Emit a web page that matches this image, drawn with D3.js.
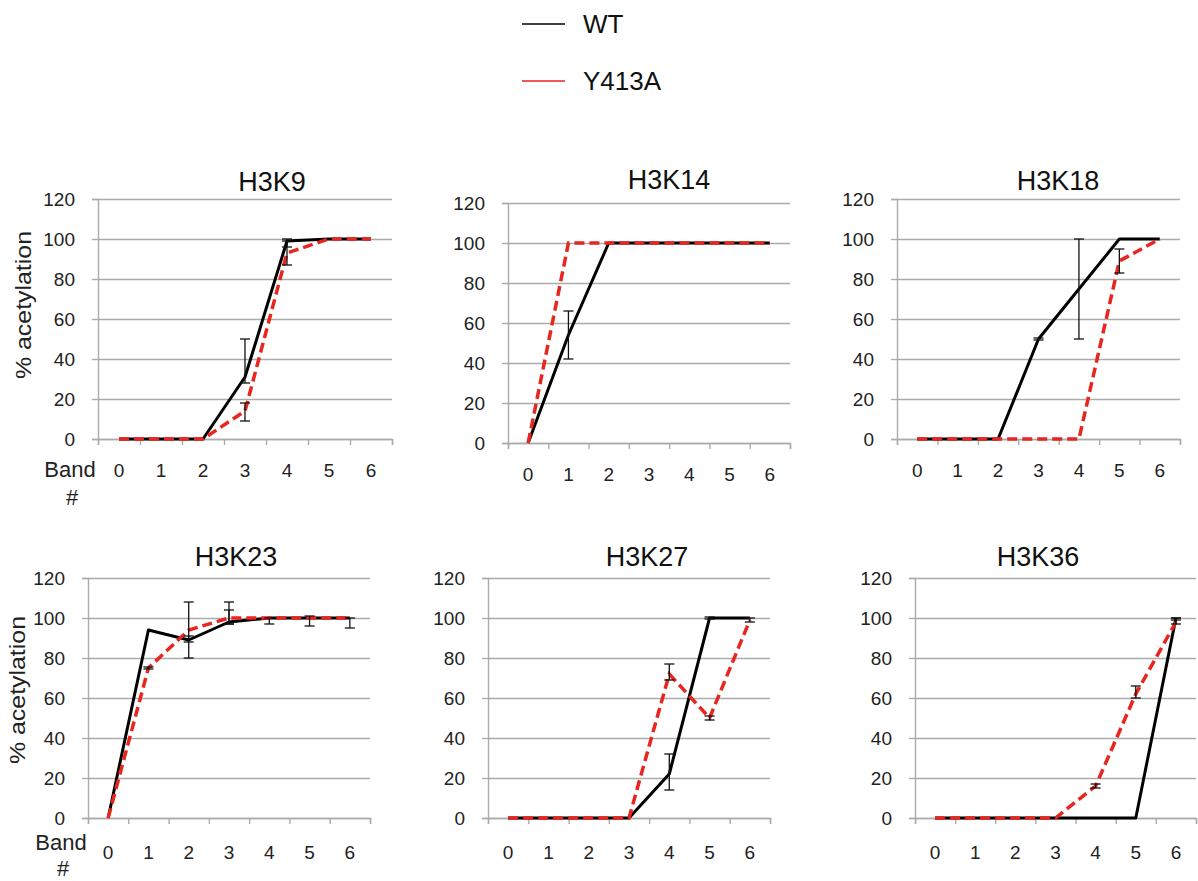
<!DOCTYPE html>
<html>
<head>
<meta charset="utf-8">
<script src="https://cdn.jsdelivr.net/npm/d3@7"></script>
<style>
  body { margin: 0; background: #fff; }
  svg { font-family: "Liberation Sans", Arial, sans-serif; }
</style>
</head>
<body>
<div id="chart"></div>
<script>
// data

var bands = ["0", "1", "2", "3", "4", "5", "6"];
var yTicks = [0, 20, 40, 60, 80, 100, 120];
var seriesNames = ["WT", "Y413A"];

var h3k9Wt = [0, 0, 0, 31, 99, 100, 100];
var h3k9WtErr = [null, null, null, [28, 50], [96, 100], null, null];
var h3k9Mut = [0, 0, 0, 14, 93, 100, 100];
var h3k9MutErr = [null, null, null, [9, 18], [87, 99], null, null];

var h3k14Wt = [0, 54, 100, 100, 100, 100, 100];
var h3k14WtErr = [null, [42, 66], null, null, null, null, null];
var h3k14Mut = [0, 100, 100, 100, 100, 100, 100];
var h3k14MutErr = [null, null, null, null, null, null, null];

var h3k18Wt = [0, 0, 0, 50, 75, 100, 100];
var h3k18WtErr = [null, null, null, [49.5, 50.5], [50, 100], null, null];
var h3k18Mut = [0, 0, 0, 0, 0, 89, 100];
var h3k18MutErr = [null, null, null, null, null, [83, 95], null];

var h3k23Wt = [0, 94, 89, 98, 100, 100, 100];
var h3k23WtErr = [null, null, [88, 91], [97, 104], [97, 100], [96, 101], [95, 100]];
var h3k23Mut = [0, 75, 94, 100, 100, 100, 100];
var h3k23MutErr = [null, [74.5, 75.5], [80, 108], [97, 108], null, null, null];

var h3k27Wt = [0, 0, 0, 0, 22, 100, 100];
var h3k27WtErr = [null, null, null, null, [14, 32], [99.5, 100.5], null];
var h3k27Mut = [0, 0, 0, 0, 72, 50, 99];
var h3k27MutErr = [null, null, null, null, [69, 77], [49, 51], [98, 100]];

var h3k36Wt = [0, 0, 0, 0, 0, 0, 100];
var h3k36WtErr = [null, null, null, null, null, null, [99, 100]];
var h3k36Mut = [0, 0, 0, 0, 16, 62, 98];
var h3k36MutErr = [null, null, null, null, [15, 17], [60, 66], [97, 100]];

// layout of the six panels (plot area in page pixels)
// lx/ly = position of the rotated y label, band/hash = baselines of "Band" and "#"
var panels = [
	{title: "H3K9",  wt: h3k9Wt,  wtErr: h3k9WtErr,  mut: h3k9Mut,  mutErr: h3k9MutErr,  x0: 98,  x1: 392,  top: 199, bottom: 439, tx: 272,  ty: 191, xpad: 25,
	 ylab: {lx: 31, ly: 305, bx: 70, band: 477, hash: 505}},
	{title: "H3K14", wt: h3k14Wt, wtErr: h3k14WtErr, mut: h3k14Mut, mutErr: h3k14MutErr, x0: 508, x1: 790,  top: 203, bottom: 443, tx: 669,  ty: 189, xpad: 25, ylab: null},
	{title: "H3K18", wt: h3k18Wt, wtErr: h3k18WtErr, mut: h3k18Mut, mutErr: h3k18MutErr, x0: 897, x1: 1180, top: 199, bottom: 439, tx: 1058, ty: 190, xpad: 25, ylab: null},
	{title: "H3K23", wt: h3k23Wt, wtErr: h3k23WtErr, mut: h3k23Mut, mutErr: h3k23MutErr, x0: 88,  x1: 370,  top: 578, bottom: 818, tx: 236,  ty: 566, xpad: 28,
	 ylab: {lx: 25, ly: 690, bx: 61, band: 850, hash: 876}},
	{title: "H3K27", wt: h3k27Wt, wtErr: h3k27WtErr, mut: h3k27Mut, mutErr: h3k27MutErr, x0: 488, x1: 770,  top: 578, bottom: 818, tx: 647,  ty: 566, xpad: 28, ylab: null},
	{title: "H3K36", wt: h3k36Wt, wtErr: h3k36WtErr, mut: h3k36Mut, mutErr: h3k36MutErr, x0: 915, x1: 1196, top: 578, bottom: 818, tx: 1038, ty: 566, xpad: 28, ylab: null}
];

var svgWidth = 1198, svgHeight = 881;
var gridColor = "#ababab";
var redColor = "#e8251f";

var svg = d3.select("#chart").append("svg")
	.attr("width", svgWidth)
	.attr("height", svgHeight);

// legend
var legend = svg.append("g").attr("id", "legend");
[{name: seriesNames[0], color: "#000", y: 24}, {name: seriesNames[1], color: redColor, y: 81}].forEach(function(l) {
	legend.append("line")
		.attr("x1", 522).attr("x2", 565)
		.attr("y1", l.y).attr("y2", l.y)
		.attr("stroke", l.color)
		.attr("stroke-width", 1.6);
	legend.append("text")
		.attr("x", 583).attr("y", l.y + 9)
		.attr("font-size", 26)
		.attr("fill", "#111")
		.text(l.name);
});

panels.forEach(function(p) {
	var g = svg.append("g");

	var xScale = d3.scaleBand().domain(bands).range([p.x0, p.x1]).padding(0);
	var edgeScale = d3.scaleLinear().domain([0, bands.length]).range([p.x0, p.x1]);
	var yScale = d3.scaleLinear().domain([0, 120]).range([p.bottom, p.top]);

	// horizontal grid
	g.append("g")
		.attr("class", "grid")
		.attr("transform", "translate(" + p.x0 + " 0)")
		.call(d3.axisLeft(yScale).tickValues(yTicks).tickSize(-(p.x1 - p.x0)).tickFormat(""))
		.call(function(s) { s.select(".domain").remove(); })
		.selectAll("line").attr("stroke", gridColor).attr("stroke-width", 1.4);

	// y axis with small stubs and labels
	var yAxis = g.append("g")
		.attr("class", "yAxis")
		.attr("transform", "translate(" + p.x0 + " 0)")
		.call(d3.axisLeft(yScale).tickValues(yTicks).tickSize(6).tickPadding(17));
	yAxis.select(".domain").attr("stroke", gridColor).attr("stroke-width", 1.4);
	yAxis.selectAll("line").attr("stroke", gridColor).attr("stroke-width", 1.4);
	yAxis.selectAll("text").attr("font-size", 19).attr("fill", "#222");

	// x axis: tick marks between bands
	var xTicks = g.append("g")
		.attr("class", "xAxis")
		.attr("transform", "translate(0 " + p.bottom + ")")
		.call(d3.axisBottom(edgeScale).tickValues(d3.range(bands.length + 1)).tickSize(6).tickFormat(""));
	xTicks.select(".domain").attr("stroke", gridColor).attr("stroke-width", 1.4);
	xTicks.selectAll("line").attr("stroke", gridColor).attr("stroke-width", 1.4);

	var xLabels = g.append("g")
		.attr("transform", "translate(0 " + p.bottom + ")")
		.call(d3.axisBottom(xScale).tickSize(0).tickPadding(p.xpad));
	xLabels.select(".domain").remove();
	xLabels.selectAll("text").attr("font-size", 19).attr("fill", "#222");

	// lines
	var line = d3.line()
		.x(function(d, i) { return xScale(bands[i]) + xScale.bandwidth() / 2; })
		.y(function(d) { return yScale(d); });

	g.append("path")
		.datum(p.wt)
		.attr("d", line)
		.attr("fill", "none")
		.attr("stroke", "#000")
		.attr("stroke-width", 3)
		.attr("stroke-linejoin", "round");

	g.append("path")
		.datum(p.mut)
		.attr("d", line)
		.attr("fill", "none")
		.attr("stroke", redColor)
		.attr("stroke-width", 3.5)
		.attr("stroke-dasharray", "10,5");

	// error bars
	var errs = [];
	p.wtErr.forEach(function(e, i) { if (e) errs.push({i: i, lo: e[0], hi: e[1]}); });
	p.mutErr.forEach(function(e, i) { if (e) errs.push({i: i, lo: e[0], hi: e[1]}); });

	var eb = g.selectAll(".err").data(errs).enter().append("g").attr("class", "err")
		.attr("stroke", "#111").attr("stroke-width", 1.3);
	eb.append("line")
		.attr("x1", function(d) { return xScale(bands[d.i]) + xScale.bandwidth() / 2; })
		.attr("x2", function(d) { return xScale(bands[d.i]) + xScale.bandwidth() / 2; })
		.attr("y1", function(d) { return yScale(d.lo); })
		.attr("y2", function(d) { return yScale(d.hi); });
	["lo", "hi"].forEach(function(k) {
		eb.append("line")
			.attr("x1", function(d) { return xScale(bands[d.i]) + xScale.bandwidth() / 2 - 5; })
			.attr("x2", function(d) { return xScale(bands[d.i]) + xScale.bandwidth() / 2 + 5; })
			.attr("y1", function(d) { return yScale(d[k]); })
			.attr("y2", function(d) { return yScale(d[k]); });
	});

	// title
	g.append("text")
		.attr("x", p.tx).attr("y", p.ty)
		.attr("text-anchor", "middle")
		.attr("font-size", 27)
		.attr("fill", "#111")
		.text(p.title);

	if (p.ylab) {
		g.append("text")
			.attr("transform", "translate(" + p.ylab.lx + " " + p.ylab.ly + ") rotate(-90)")
			.attr("text-anchor", "middle")
			.attr("font-size", 22)
			.attr("textLength", 148)
			.attr("lengthAdjust", "spacingAndGlyphs")
			.attr("fill", "#222")
			.text("% acetylation");
		g.append("text")
			.attr("x", p.ylab.bx).attr("y", p.ylab.band)
			.attr("text-anchor", "middle")
			.attr("font-size", 22)
			.attr("fill", "#222")
			.text("Band");
		g.append("text")
			.attr("x", p.ylab.bx + 2).attr("y", p.ylab.hash)
			.attr("text-anchor", "middle")
			.attr("font-size", 22)
			.attr("fill", "#222")
			.text("#");
	}
});
</script>
</body>
</html>
